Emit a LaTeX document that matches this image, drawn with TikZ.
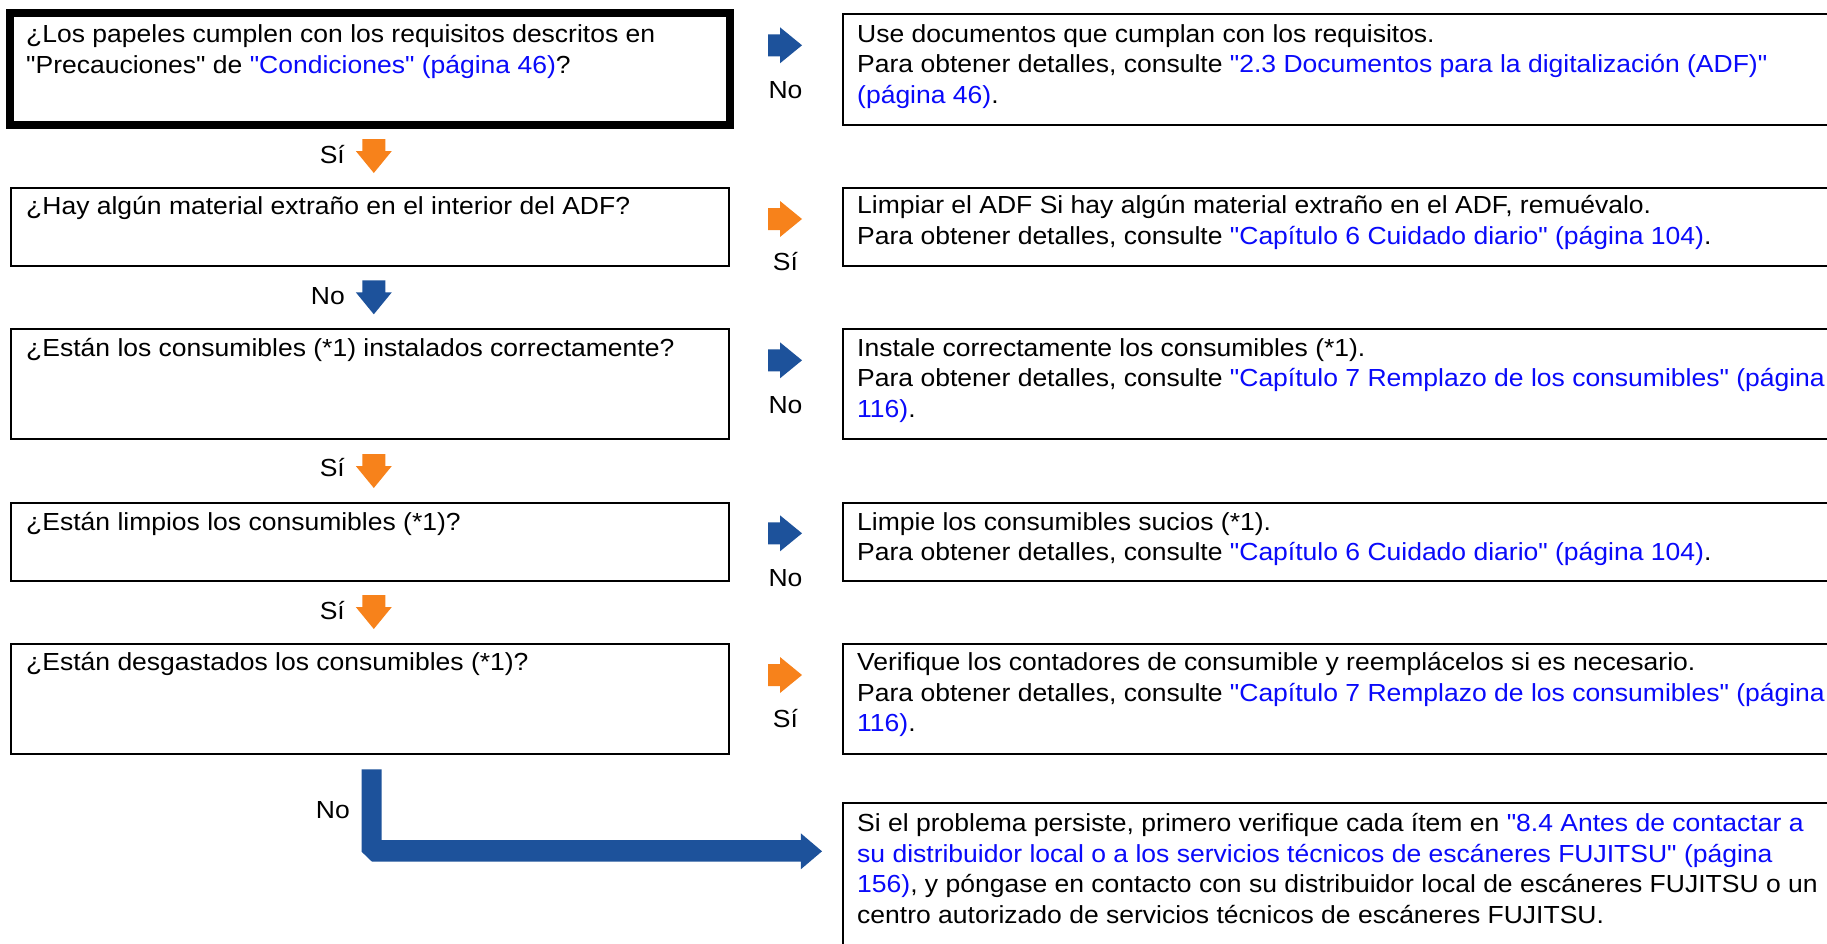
\documentclass[tikz,border=0pt]{standalone}
\usepackage{fontspec}
\setmainfont{Liberation Sans}[Ligatures=TeXOff, FakeStretch=1.073]
\definecolor{fjblue}{RGB}{29,82,155}
\definecolor{fjorange}{RGB}{247,130,27}
\definecolor{linkblue}{RGB}{10,10,250}
\newcommand{\lk}[1]{\textcolor{linkblue}{#1}}
\tikzset{
  pics/rarr/.style={code={\fill[#1] (0,-11) -- (12,-11) -- (12,-18) -- (34,0) -- (12,18) -- (12,11) -- (0,11) -- cycle;}},
  pics/darr/.style={code={\fill[#1] (-11.5,0) -- (11.5,0) -- (11.5,12) -- (18,12) -- (0,34) -- (-18,12) -- (-11.5,12) -- cycle;}},
}
\begin{document}
\begin{tikzpicture}[x=1pt,y=-1pt,
  box/.style={draw=black, line width=2pt, inner sep=0pt, outer sep=0pt},
  thickbox/.style={draw=black, line width=8pt, inner sep=0pt, outer sep=0pt},
  txt/.style={anchor=base west, inner sep=0pt, align=left, font=\fontsize{24.7}{30.5}\selectfont},
  lbl/.style={inner sep=0pt, font=\fontsize{24.7}{30.5}\selectfont},
]
\useasboundingbox (0,0) rectangle (1827,943);
\fill[white] (0,0) rectangle (1827,943);

% left question boxes
\node[thickbox, minimum width=719.5pt, minimum height=112pt] (q1) at (369.75,69) {};
\node[box, minimum width=718pt, minimum height=78.5pt] (q2) at (369.5,226.75) {};
\node[box, minimum width=718pt, minimum height=110.5pt] (q3) at (369.5,383.75) {};
\node[box, minimum width=718pt, minimum height=78.5pt] (q4) at (369.5,541.75) {};
\node[box, minimum width=718pt, minimum height=110.5pt] (q5) at (369.5,698.75) {};

% right answer boxes
\node[box, minimum width=997.4pt, minimum height=111.5pt] (a1) at (1341.3,69.25) {};
\node[box, minimum width=997.4pt, minimum height=78.5pt] (a2) at (1341.3,226.75) {};
\node[box, minimum width=997.4pt, minimum height=110.5pt] (a3) at (1341.3,383.75) {};
\node[box, minimum width=997.4pt, minimum height=78.5pt] (a4) at (1341.3,541.75) {};
\node[box, minimum width=997.4pt, minimum height=110.5pt] (a5) at (1341.3,698.75) {};
\node[box, minimum width=997.4pt, minimum height=157pt] (a6) at (1341.3,881.5) {};

% question texts (anchor = baseline of last line)
\node[txt] (tq1) at (26,73) {¿Los papeles cumplen con los requisitos descritos en\\"Precauciones" de \lk{"Condiciones" (página 46)}?};
\node[txt] (tq2) at (26,214.5) {¿Hay algún material extraño en el interior del ADF?};
\node[txt] (tq3) at (26,356) {¿Están los consumibles (*1) instalados correctamente?};
\node[txt] (tq4) at (26,530) {¿Están limpios los consumibles (*1)?};
\node[txt] (tq5) at (26,670.5) {¿Están desgastados los consumibles (*1)?};

% answer texts
\node[txt] (ta1) at (857,103.2) {Use documentos que cumplan con los requisitos.\\Para obtener detalles, consulte \lk{"2.3 Documentos para la digitalización (ADF)"}\\\lk{(página 46)}.};
\node[txt] (ta2) at (857,244) {Limpiar el ADF Si hay algún material extraño en el ADF, remuévalo.\\Para obtener detalles, consulte \lk{"Capítulo 6 Cuidado diario" (página 104)}.};
\node[txt] (ta3) at (857,417) {Instale correctamente los consumibles (*1).\\Para obtener detalles, consulte \lk{"Capítulo 7 Remplazo de los consumibles" (página}\\\lk{116)}.};
\node[txt] (ta4) at (857,560.5) {Limpie los consumibles sucios (*1).\\Para obtener detalles, consulte \lk{"Capítulo 6 Cuidado diario" (página 104)}.};
\node[txt] (ta5) at (857,731.5) {Verifique los contadores de consumible y reemplácelos si es necesario.\\Para obtener detalles, consulte \lk{"Capítulo 7 Remplazo de los consumibles" (página}\\\lk{116)}.};
\node[txt] (ta6) at (857,923) {Si el problema persiste, primero verifique cada ítem en \lk{"8.4 Antes de contactar a}\\\lk{su distribuidor local o a los servicios técnicos de escáneres FUJITSU" (página}\\\lk{156)}, y póngase en contacto con su distribuidor local de escáneres FUJITSU o un\\centro autorizado de servicios técnicos de escáneres FUJITSU.};

% right arrows
\pic at (768,45.3) {rarr=fjblue};
\pic at (768,219) {rarr=fjorange};
\pic at (768,360.3) {rarr=fjblue};
\pic at (768,533.3) {rarr=fjblue};
\pic at (768,675) {rarr=fjorange};
\node[lbl, anchor=base] (r1) at (785.5,98.3) {No};
\node[lbl, anchor=base] (r2) at (785.5,270.7) {Sí};
\node[lbl, anchor=base] (r3) at (785.5,413.3) {No};
\node[lbl, anchor=base] (r4) at (785.5,586) {No};
\node[lbl, anchor=base] (r5) at (785.5,727.5) {Sí};

% down arrows
\pic at (373.8,139) {darr=fjorange};
\pic at (373.8,280.3) {darr=fjblue};
\pic at (373.8,454) {darr=fjorange};
\pic at (373.8,595) {darr=fjorange};
\node[lbl, anchor=base east] (d1) at (345,163.3) {Sí};
\node[lbl, anchor=base east] (d2) at (345,304) {No};
\node[lbl, anchor=base east] (d3) at (345,476.7) {Sí};
\node[lbl, anchor=base east] (d4) at (345,619) {Sí};

% bottom elbow arrow
\fill[fjblue] (361.6,769.3) -- (381.7,769.3) -- (381.7,840) -- (800.8,840) -- (800.8,833.3) -- (822,851.3) -- (800.8,869.3) -- (800.8,861.7) -- (372,861.7) -- (361.6,851.7) -- cycle;
\node[lbl, anchor=base east] (d5) at (350,818.3) {No};
\end{tikzpicture}
\end{document}
